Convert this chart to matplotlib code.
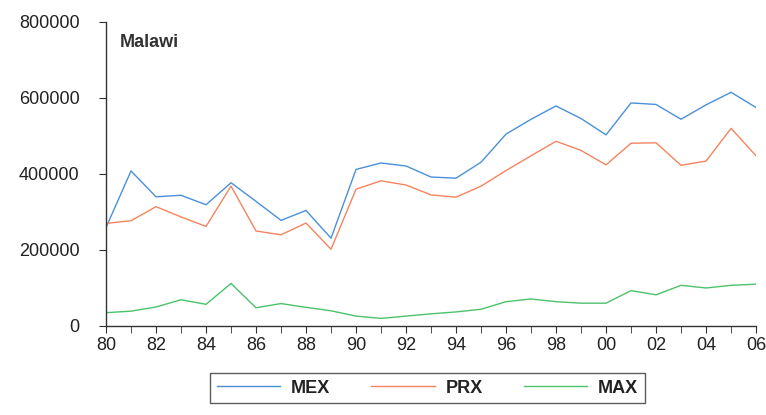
import matplotlib
matplotlib.use("Agg")
import matplotlib.pyplot as plt
import numpy as np

# ---------------------------- data ---------------------------- #
years = list(range(1980, 2007))

mex = [259000, 408000, 340000, 344000, 319000, 377000, 328000, 278000, 304000, 231000,
       412000, 429000, 421000, 392000, 389000, 431000, 505000, 544000, 579000, 546000,
       503000, 587000, 583000, 544000, 582000, 615000, 575000]

prx = [270000, 277000, 314000, 287000, 262000, 368000, 250000, 240000, 271000, 202000,
       360000, 382000, 371000, 345000, 339000, 368000, 409000, 448000, 486000, 462000,
       424000, 481000, 482000, 423000, 434000, 520000, 448000]

max_ = [35000, 39000, 50000, 69000, 57000, 112000, 48000, 59000, 49000, 40000,
        26000, 20000, 26000, 32000, 37000, 44000, 64000, 71000, 64000, 60000,
        60000, 93000, 82000, 107000, 100000, 107000, 110000]

series_names = ["MEX", "PRX", "MAX"]
colors = ["#4a90d9", "#f4845f", "#4cc26a"]

y_ticks = [0, 200000, 400000, 600000, 800000]
x_labels = ["80", "82", "84", "86", "88", "90", "92", "94", "96", "98",
            "00", "02", "04", "06"]

# ---------------------------- plot ---------------------------- #
plt.rcParams['font.family'] = ['Liberation Sans', 'DejaVu Sans']

fig = plt.figure(figsize=(7.66, 4.15), dpi=100)
ax = fig.add_axes([0.1384, 0.2145, 0.8486, 0.7325])

for vals, name, c in zip([mex, prx, max_], series_names, colors):
    ax.plot(years, vals, color=c, lw=1.0, label=name)

ax.set_xlim(1980, 2006)
ax.set_ylim(0, 800000)
ax.set_yticks(y_ticks)
ax.set_yticklabels([str(v) for v in y_ticks])
ax.set_xticks(years, minor=True)
ax.set_xticks(years[::2])
ax.set_xticklabels(x_labels)

for s in ["top", "right"]:
    ax.spines[s].set_visible(False)
for s in ["left", "bottom"]:
    ax.spines[s].set_color("#333333")
    ax.spines[s].set_linewidth(1.0)

ax.tick_params(axis="y", direction="out", length=5, pad=14, labelsize=13,
               colors="#333333", labelcolor="#222222")
ax.tick_params(axis="x", which="both", direction="out", length=5, pad=3,
               labelsize=13, colors="#333333", labelcolor="#222222")

ax.text(1980.55, 745000, "Malawi", fontsize=13, color="#333333",
        fontweight="bold", ha="left", va="center")

leg = fig.legend(loc="center", bbox_to_anchor=(0.558, 0.065), ncol=3,
                 handlelength=3.5, handletextpad=0.6,
                 columnspacing=2.3, borderpad=0.35, frameon=True,
                 fancybox=False, prop={"size": 13, "weight": "bold"})
leg.get_frame().set_edgecolor("#333333")
leg.get_frame().set_linewidth(1.0)
for t in leg.get_texts():
    t.set_color("#222222")

fig.savefig("out.png", dpi=100)
